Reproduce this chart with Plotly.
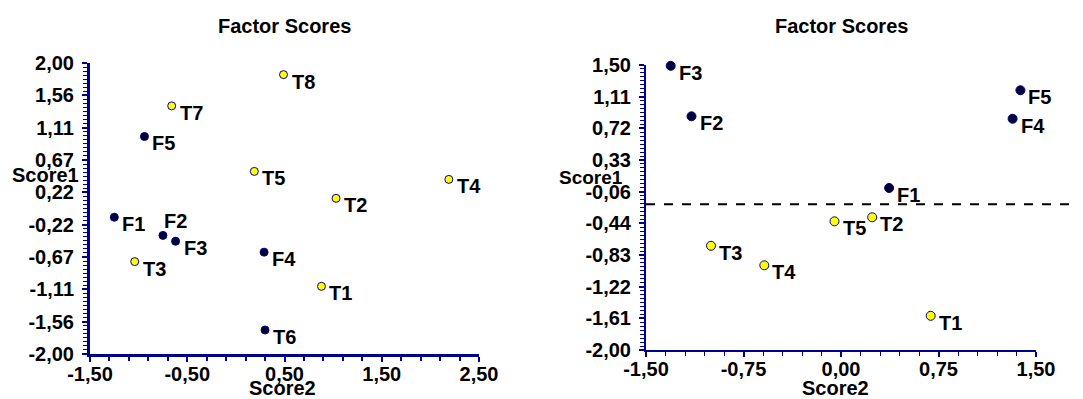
import numpy as np
import plotly.graph_objects as go

# ---------------- data ----------------
left_labels = ["T8", "T7", "F5", "T5", "T4", "T2", "F1", "F2", "F3", "F4", "T3", "T1", "T6"]
left_score2 = [0.49, -0.66, -0.94, 0.19, 2.19, 1.03, -1.25, -0.75, -0.62, 0.29, -1.04, 0.88, 0.30]
left_score1 = [1.84, 1.41, 0.99, 0.51, 0.40, 0.14, -0.12, -0.37, -0.45, -0.60, -0.73, -1.07, -1.67]
left_kind = ["T", "T", "F", "T", "T", "T", "F", "F", "F", "F", "T", "T", "F"]

right_labels = ["F3", "F2", "F5", "F4", "F1", "T5", "T2", "T3", "T4", "T1"]
right_score2 = [-1.31, -1.15, 1.38, 1.32, 0.37, -0.05, 0.24, -1.00, -0.59, 0.69]
right_score1 = [1.49, 0.87, 1.19, 0.84, -0.01, -0.42, -0.37, -0.72, -0.96, -1.58]
right_kind = ["F", "F", "F", "F", "F", "T", "T", "T", "T", "T"]
right_cut = -0.21

left_y_ticktext = ["-2,00", "-1,56", "-1,11", "-0,67", "-0,22", "0,22", "0,67", "1,11", "1,56", "2,00"]
left_x_ticktext = ["-1,50", "-0,50", "0,50", "1,50", "2,50"]
right_y_ticktext = ["-2,00", "-1,61", "-1,22", "-0,83", "-0,44", "-0,06", "0,33", "0,72", "1,11", "1,50"]
right_x_ticktext = ["-1,50", "-0,75", "0,00", "0,75", "1,50"]

title_text = "Factor Scores"
xtitle = "Score2"
ytitle = "Score1"

# ---------------- style ----------------
OFF = 8                      # page body margin
W, H = 1083 - OFF, 399 - OFF
FONT = "Liberation Sans, Arial, sans-serif"
FS = 20
AXC = "#000090"
YEL = "#ffff00"
DARK = "#000033"

def fx(px):
    return (px - OFF) / W

def fy(py):
    return 1 - (py - OFF) / H

special_shift = {("L", "F2"): (-1, 14)}

fig = go.Figure()

def add_panel(tag, xs, ys, labels, kinds, xa, ya, msize):
    colors = [YEL if k == "T" else DARK for k in kinds]
    fig.add_trace(go.Scatter(
        x=xs, y=ys, mode="markers", xaxis=xa, yaxis=ya,
        marker=dict(size=msize, color=colors, line=dict(color=AXC, width=1)),
        cliponaxis=False, showlegend=False, hoverinfo="text", text=labels))
    for x, y, t in zip(xs, ys, labels):
        dx, dy = special_shift.get((tag, t), (6, -7))
        fig.add_annotation(x=x, y=y, xref=xa, yref=ya,
                           text=f"<b>{t}</b>", showarrow=False,
                           xanchor="left", yanchor="middle", xshift=dx, yshift=dy,
                           font=dict(family=FONT, size=FS, color="black"))

add_panel("L", left_score2, left_score1, left_labels, left_kind, "x", "y", 8)
add_panel("R", right_score2, right_score1, right_labels, right_kind, "x2", "y2", 9)

def axis_common(width):
    return dict(showgrid=False, zeroline=False, showline=True, linecolor=AXC,
                linewidth=width, ticks="outside", ticklen=5, tickwidth=2,
                tickcolor=AXC, tickmode="array", automargin=False,
                tickfont=dict(family=FONT, size=FS, color="black", weight="bold"))

lx = [fx(90), fx(479)]
ly = [fy(354), fy(63)]
rx = [fx(646), fx(1036)]
ry = [fy(350), fy(65)]

lxt = np.linspace(-1.5, 2.5, len(left_x_ticktext))
lyt = np.linspace(-2.0, 2.0, len(left_y_ticktext))
rxt = np.linspace(-1.5, 1.5, len(right_x_ticktext))
ryt = np.linspace(-2.0, 1.5, len(right_y_ticktext))

fig.update_layout(
    width=W, height=H, margin=dict(l=0, r=0, t=0, b=0),
    paper_bgcolor="white", plot_bgcolor="white",
    xaxis=dict(domain=lx, range=[-1.5, 2.5], anchor="y", tickvals=lxt, ticktext=left_x_ticktext,
               ticklabelstandoff=-5,
               minor=dict(dtick=0.2, tick0=-1.5, ticks="outside", ticklen=4, tickcolor=AXC, tickwidth=2),
               **axis_common(3)),
    yaxis=dict(domain=ly, range=[-2.0, 2.0], anchor="x", tickvals=lyt, ticktext=left_y_ticktext,
               ticklabelstandoff=4,
               minor=dict(dtick=4 / 9 / 8, tick0=-2.0, ticks="outside", ticklen=4, tickcolor=AXC, tickwidth=1),
               **axis_common(3)),
    xaxis2=dict(domain=rx, range=[-1.5, 1.5], anchor="y2", tickvals=rxt, ticktext=right_x_ticktext,
                ticklabelstandoff=-5,
                minor=dict(dtick=0.15, tick0=-1.5, ticks="outside", ticklen=4, tickcolor=AXC, tickwidth=1),
                **axis_common(2)),
    yaxis2=dict(domain=ry, range=[-2.0, 1.5], anchor="x2", tickvals=ryt, ticktext=right_y_ticktext,
                ticklabelstandoff=4,
                minor=dict(dtick=3.5 / 9 / 8, tick0=-2.0, ticks="outside", ticklen=4, tickcolor=AXC, tickwidth=1),
                **axis_common(2)),
)

fig.add_shape(type="line", xref="paper", yref="y2", x0=rx[0], x1=1.0, y0=right_cut, y1=right_cut,
              line=dict(color="black", width=2, dash="dash"))

for cx in [(lx[0] + lx[1]) / 2, (rx[0] + rx[1]) / 2]:
    fig.add_annotation(x=cx, y=fy(26), xref="paper", yref="paper", showarrow=False,
                       text=f"<b>{title_text}</b>", xanchor="center", yanchor="middle",
                       font=dict(family=FONT, size=FS, color="black"))

for cx in [fx(282), fx(835)]:
    fig.add_annotation(x=cx, y=fy(388), xref="paper", yref="paper", showarrow=False,
                       text=f"<b>{xtitle}</b>", xanchor="center", yanchor="middle",
                       font=dict(family=FONT, size=FS, color="black"))
fig.add_annotation(x=fx(81), y=fy(175), xref="paper", yref="paper", showarrow=False,
                   text=f"<b>{ytitle}</b>", xanchor="right", yanchor="middle",
                   font=dict(family=FONT, size=FS, color="black"))
fig.add_annotation(x=fx(625), y=fy(178), xref="paper", yref="paper", showarrow=False,
                   text=f"<b>{ytitle}</b>", xanchor="right", yanchor="middle",
                   font=dict(family=FONT, size=19, color="black"))

fig.write_html("out.html")
